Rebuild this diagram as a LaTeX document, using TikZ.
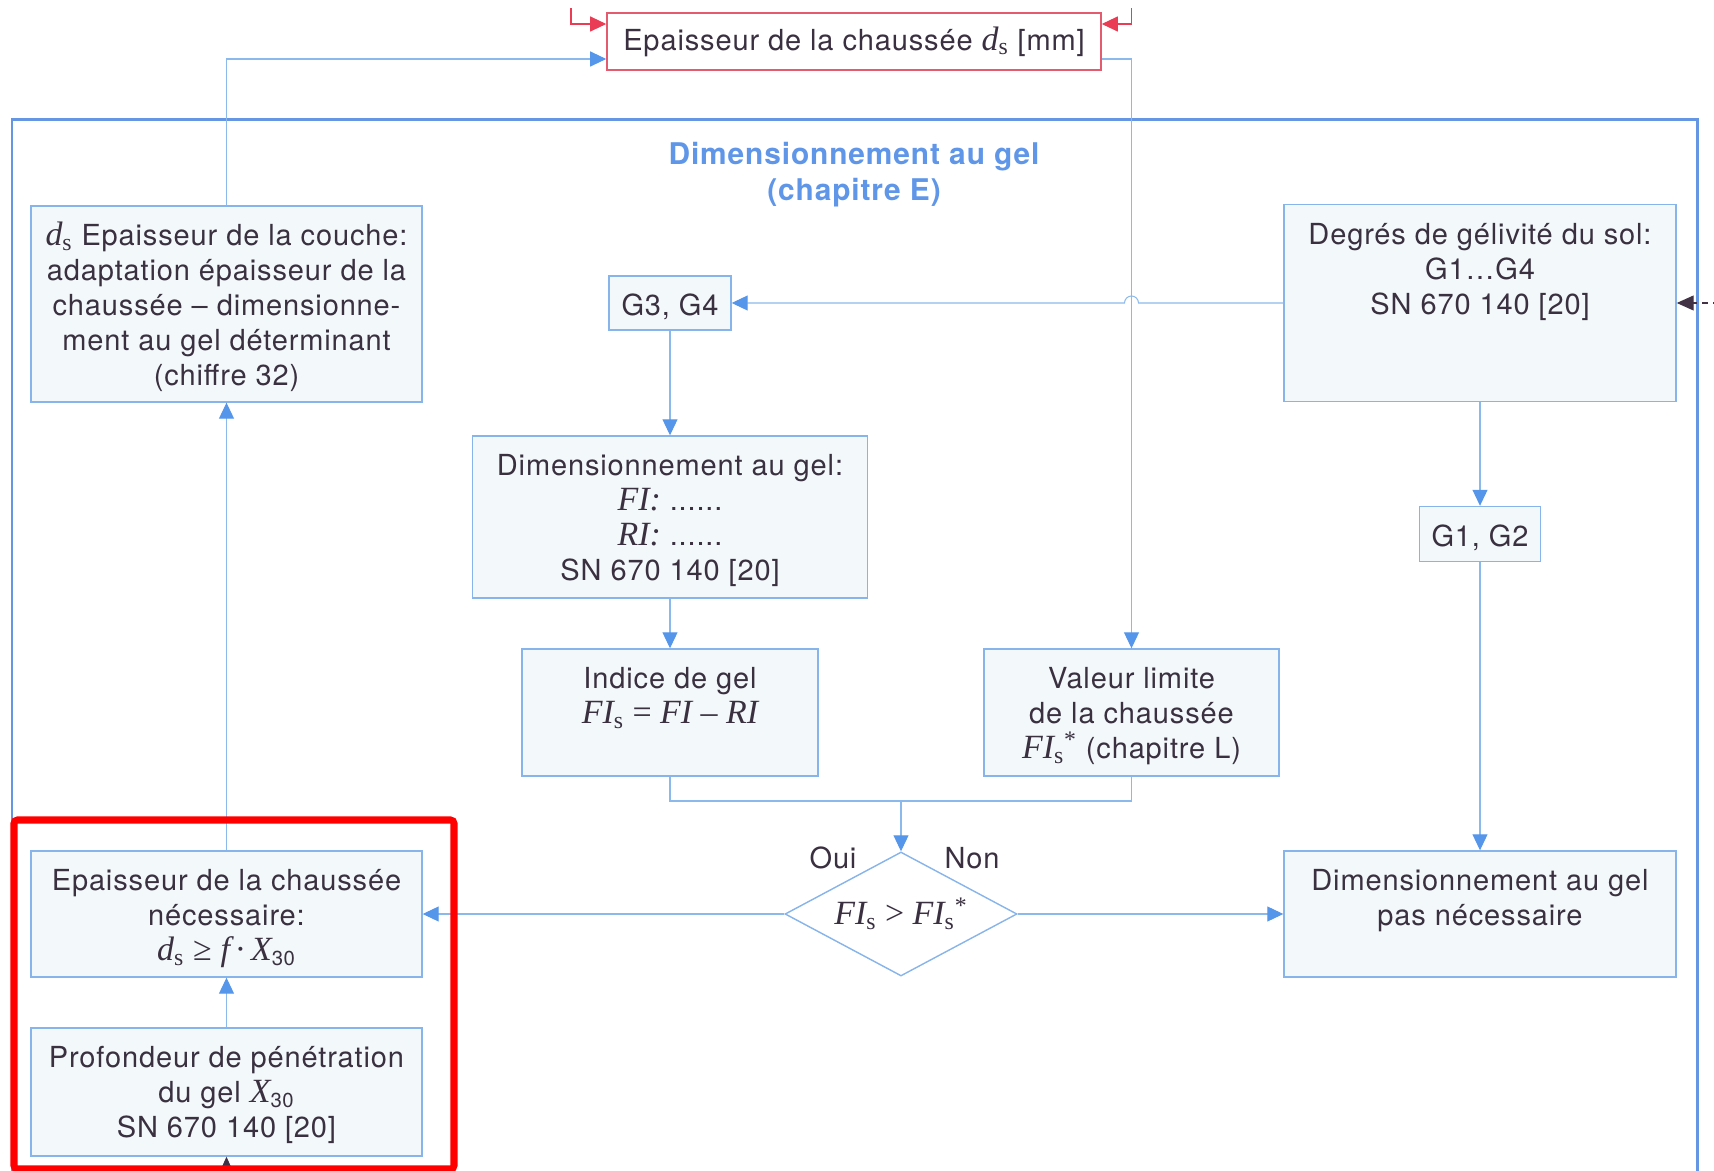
\documentclass[tikz,border=0pt]{standalone}
\usepackage{fontspec}
\setmainfont[LetterSpace=3]{TeX Gyre Heros}
\newfontfamily\formfont[Scale=1.17]{Liberation Serif}
\usetikzlibrary{positioning,shapes.geometric,arrows.meta}

\definecolor{ink}{RGB}{58,48,64}
\definecolor{frameblue}{RGB}{100,150,228}
\definecolor{titleblue}{RGB}{95,150,232}
\definecolor{boxline}{RGB}{135,180,235}
\definecolor{boxfill}{RGB}{243,249,251}
\definecolor{wire}{RGB}{140,185,235}
\definecolor{tipblue}{RGB}{85,150,235}
\definecolor{topred}{RGB}{228,90,110}
\definecolor{tipred}{RGB}{235,60,85}
\definecolor{tipdark}{RGB}{65,50,70}

% formula bits in a serif italic
\newcommand{\mvar}[1]{{\formfont\itshape #1}}
\newcommand{\msub}[1]{\textsubscript{\formfont #1}}
\newcommand{\dsv}{\mvar{d}\msub{s}}
\newcommand{\FIs}{\mvar{FI}\msub{s}}
\newcommand{\FIsstar}{\mvar{FI}\msub{s}\textsuperscript{\formfont *}}
\newcommand{\Xtrente}{\mvar{X}\textsubscript{30}}

\begin{document}
\begin{tikzpicture}[on grid, node distance=4cm,
    every node/.style={font=\fontsize{16.5}{19.9}\selectfont, text=ink},
    % boxes of fixed size, text starting at the top
    box/.style 2 args={draw=boxline, line width=0.8pt, fill=boxfill,
      inner xsep=0.1cm, inner ysep=0.2cm, minimum width=#1, minimum height=#2,
      execute at begin node={\begin{minipage}[c][\dimexpr#2-0.4cm\relax][t]{\dimexpr#1-0.2cm\relax}\centering\vspace*{0.11cm}\strut},
      execute at end node={\end{minipage}}},
    inbox/.style={draw=topred, line width=0.9pt, fill=white, inner xsep=0.2cm},
    decision/.style={diamond, draw=boxline, line width=0.8pt, fill=white,
      aspect=1.87, inner sep=0pt, minimum width=4.64cm, minimum height=2.48cm},
    heading/.style={font=\fontsize{17}{20.5}\selectfont\bfseries,
      text=titleblue, align=center},
    flow/.style={color=wire, line width=0.6pt,
      -{Triangle[length=0.32cm,width=0.3cm,color=tipblue]}},
    redflow/.style={draw=tipred, line width=0.6pt,
      -{Triangle[length=0.32cm,width=0.3cm]}},
    darkflow/.style={draw=tipdark, line width=0.6pt,
      -{Triangle[length=0.34cm,width=0.3cm]}},
  ]
\useasboundingbox (0,0) rectangle (34.28,-23.42);
\clip (0,0) rectangle (34.28,-23.42);

% frame of the frost part
\draw[frameblue, line width=1.7pt] (0.24,-24) |- (33.94,-2.40) -- (33.94,-24);
\node[heading] (head) at (17.08,-3.49) {Dimensionnement au gel\\(chapitre E)};

\node[inbox, minimum width=9.88cm, minimum height=1.14cm] (thick) at (17.08,-0.83)
  {\raisebox{-0.04cm}{Epaisseur de la chaussée \dsv{} [mm]}};

% left column
\node[box={7.82cm}{3.92cm}] (layer) at (4.53,-6.08)
  {\dsv{} Epaisseur de la couche:\\adaptation épaisseur de la\\chaussée – dimensionne-\\ment au gel déterminant\\(chiffre 32)};
\node[box={7.82cm}{2.52cm}] (need) at (4.53,-18.28)
  {Epaisseur de la chaussée\\nécessaire:\\\dsv{} {\formfont ≥} \mvar{f}\,{\formfont ·}\,\Xtrente};
\node[box={7.82cm}{2.56cm}] (depth) [below=3.56cm of need]
  {Profondeur de pénétration\\du gel \Xtrente\\SN 670 140 [20]};

% middle column
\node[box={2.44cm}{1.08cm}] (g34) at (13.40,-6.06) {G3, G4};
\node[box={7.90cm}{3.24cm}] (dim) [below=4.28cm of g34]
  {Dimensionnement au gel:\\\mvar{FI:} ......\\\mvar{RI:} ......\\SN 670 140 [20]};
\node[box={5.92cm}{2.54cm}] (indice) [below=3.91cm of dim]
  {Indice de gel\\{\formfont\FIs{} = \mvar{FI} – \mvar{RI}}};
\node[box={5.90cm}{2.54cm}] (limit) [right=9.23cm of indice]
  {Valeur limite\\de la chaussée\\\FIsstar{} (chapitre L)};
\node[decision] (decide) at (18.02,-18.28) {{\formfont\FIs{} > \FIsstar}};
\node (yes) at (16.66,-17.16) {Oui};
\node (no) at (19.44,-17.16) {Non};

% right column
\node[box={7.84cm}{3.94cm}] (soil) at (29.60,-6.06)
  {Degrés de gélivité du sol:\\G1…G4\\SN 670 140 [20]};
\node[box={2.42cm}{1.10cm}] (g12) [below=4.62cm of soil] {G1, G2};
\node[box={7.84cm}{2.52cm}] (free) at (29.60,-18.28)
  {Dimensionnement au gel\\pas nécessaire};

\coordinate (join) at (18.02,-16.02);
\coordinate (hop) at (22.63,-6.06);

\path[flow]
(g34) edge (dim)
(dim) edge (indice)
(soil) edge (g12)
(g12) edge (free)
(depth) edge (need)
(need) edge (layer)
(decide) edge (need)
(decide) edge (free)
(join) edge (decide)
; % end path

\draw[draw=wire, line width=0.6pt] (indice.south) |- (join) -| (limit.south);
\draw[flow] (soil.west) -- ([xshift=0.14cm]hop) arc[start angle=0, end angle=180, radius=0.14cm] -- (g34.east);
\draw[flow] (layer.north) |- ([yshift=-0.35cm]thick.west);
\draw[flow] ([yshift=-0.35cm]thick.east) -| (limit.north);

% inputs from outside
\draw[redflow] (11.42,-0.16) |- ([yshift=0.35cm]thick.west);
\draw[redflow] (22.63,-0.16) |- ([yshift=0.35cm]thick.east);
\draw[darkflow, dash pattern=on 0.12cm off 0.1cm] (34.6,-6.06) -- (soil.east);
\draw[darkflow] (4.53,-23.9) -- (depth.south);

% highlight
\draw[red, line width=4pt, rounded corners=2pt] (0.28,-16.40) rectangle (9.08,-23.38);
\end{tikzpicture}
\end{document}
